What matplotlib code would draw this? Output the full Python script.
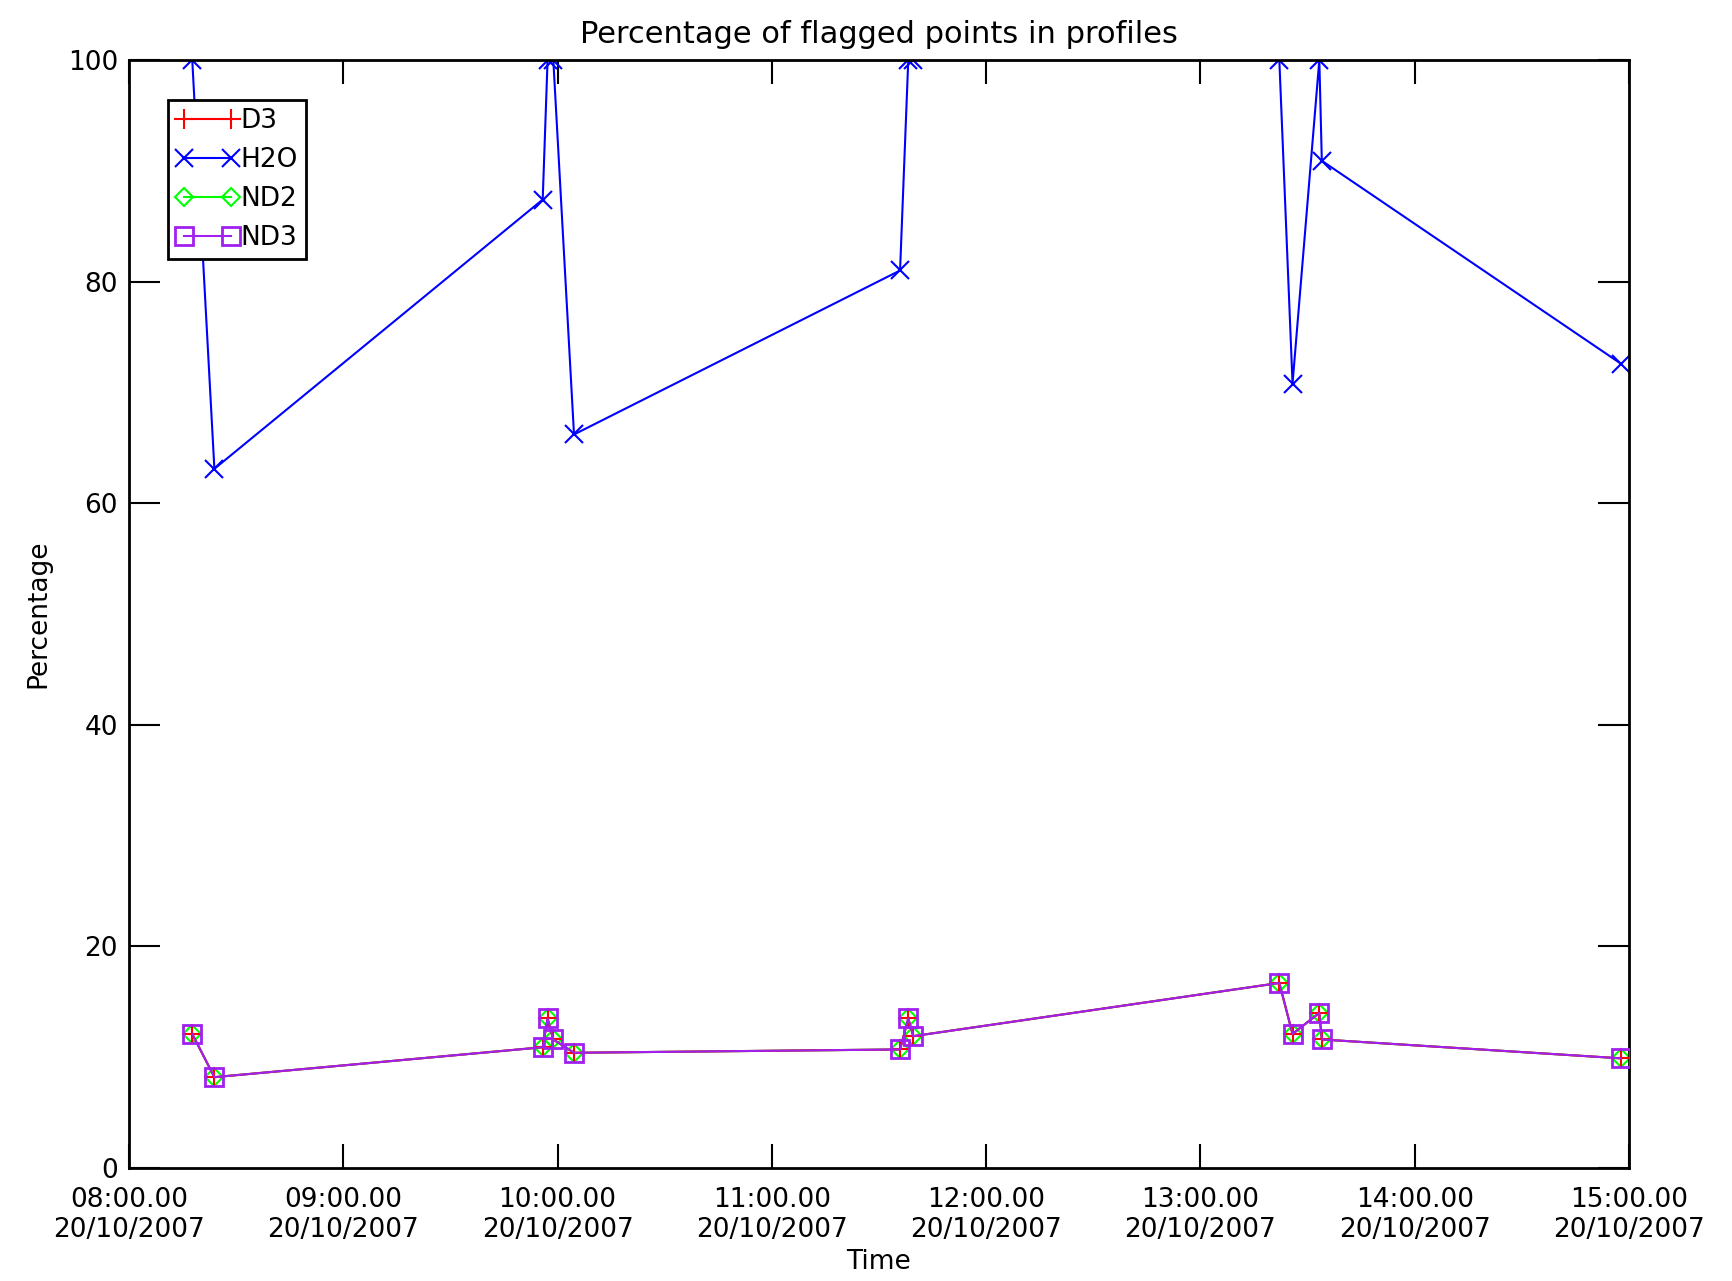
import datetime as dt
import matplotlib
matplotlib.use("Agg")
import matplotlib.pyplot as plt
import matplotlib.dates as mdates

# profile times (20/10/2007) and percentage of flagged points
times = ["08:17:42", "08:23:54", "09:55:50", "09:57:12", "09:58:48", "10:04:36",
         "11:35:54", "11:38:12", "11:39:36", "13:22:06", "13:25:48", "13:33:18",
         "13:34:00", "14:57:42"]
h2o = [100, 63.1, 87.4, 100, 100, 66.2, 81.0, 100, 100, 100, 70.8, 100, 90.9, 72.6]
nd3 = [12.1, 8.2, 10.9, 13.5, 11.6, 10.4, 10.7, 13.5, 11.9, 16.7, 12.1, 14.0, 11.6, 9.9]
d3 = nd3[:]
nd2 = nd3[:]

t = [dt.datetime.strptime("2007-10-20 " + s, "%Y-%m-%d %H:%M:%S") for s in times]

plt.rcParams['font.family'] = ['DejaVu Sans']
fig = plt.figure(figsize=(17.32, 12.81), dpi=100)
ax = fig.add_axes([0.0745, 0.0882, 0.866, 0.865])

ax.plot(t, d3, color='red', marker='+', ms=14, mew=1.5, lw=1.5, label='D3', zorder=3)
ax.plot(t, h2o, color='blue', marker='x', ms=13, mew=1.5, lw=1.5, label='H2O', zorder=2)
ax.plot(t, nd2, color='#00ff00', marker='D', ms=9, mfc='none', mew=1.5, lw=1.5, label='ND2', zorder=2.5)
ax.plot(t, nd3, color='#a020f0', marker='s', ms=13, mfc='none', mew=2, lw=1.5, label='ND3', zorder=4)

ax.set_xlim(dt.datetime(2007, 10, 20, 8), dt.datetime(2007, 10, 20, 15))
ax.set_ylim(0, 100)
ax.set_yticks([0, 20, 40, 60, 80, 100])
ax.xaxis.set_major_locator(mdates.HourLocator())
ax.xaxis.set_major_formatter(mdates.DateFormatter('%H:%M.%S\n%d/%m/%Y'))

ax.tick_params(axis='x', direction='in', length=17, width=1.5, top=True, labelsize=19, pad=14)
ax.tick_params(axis='y', direction='in', length=22, width=1.5, right=True, labelsize=19, pad=8)
for s in ax.spines.values():
    s.set_linewidth(2)

ax.set_title('Percentage of flagged points in profiles', fontsize=22, pad=12)
ax.set_xlabel('Time', fontsize=19, labelpad=4)
ax.set_ylabel('Percentage', fontsize=19, labelpad=12)

leg = ax.legend(loc='upper left', bbox_to_anchor=(0.026, 0.964), numpoints=2, fontsize=19,
                fancybox=False, framealpha=1, edgecolor='black', handlelength=2.4,
                handletextpad=0.05, borderaxespad=0, borderpad=0.3, labelspacing=0.5)
leg.get_frame().set_linewidth(2)

fig.savefig('out.png', dpi=100)
